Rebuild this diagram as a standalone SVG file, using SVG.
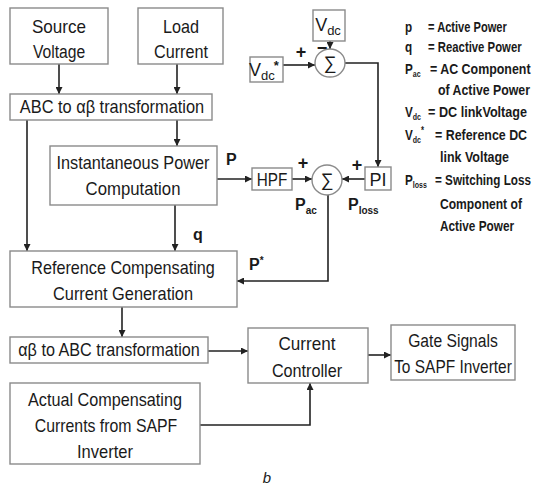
<svg xmlns="http://www.w3.org/2000/svg" width="540" height="492" viewBox="0 0 540 492">
<style>
.box{fill:#fff;stroke:#8a8a8a;stroke-width:1.4}
.sum{fill:#fff;stroke:#8a8a8a;stroke-width:1.4}
.t{font-family:"Liberation Sans",Arial,sans-serif;font-size:18px;fill:#1a1a1a;text-anchor:middle}
.lb{font-family:"Liberation Sans",Arial,sans-serif;font-size:16px;font-weight:bold;fill:#1a1a1a}
.lg{font-family:"Liberation Sans",Arial,sans-serif;font-size:15px;font-weight:bold;fill:#1a1a1a}
.ln{fill:none;stroke:#222;stroke-width:1.6}
</style>
<defs>
<marker id="ah" viewBox="0 0 10 10" refX="10" refY="5" markerWidth="7" markerHeight="7" markerUnits="userSpaceOnUse" orient="auto">
<path d="M0,0 L10,5 L0,10 z" fill="#222"/>
</marker>
</defs>
<rect width="540" height="492" fill="#fff"/>
<g id="connectors">
<path class="ln" d="M59,64 V94" marker-end="url(#ah)"/>
<path class="ln" d="M177,64 V94" marker-end="url(#ah)"/>
<path class="ln" d="M177,120 V146" marker-end="url(#ah)"/>
<path class="ln" d="M27,120 V251" marker-end="url(#ah)"/>
<path class="ln" d="M175,205 V251" marker-end="url(#ah)"/>
<path class="ln" d="M217,179 H252" marker-end="url(#ah)"/>
<path class="ln" d="M292,179 H312" marker-end="url(#ah)"/>
<path class="ln" d="M365,179 H342" marker-end="url(#ah)"/>
<path class="ln" d="M330,41 V49" marker-end="url(#ah)"/>
<path class="ln" d="M283,65 H315" marker-end="url(#ah)"/>
<path class="ln" d="M345,63 H378 V167" marker-end="url(#ah)"/>
<path class="ln" d="M328,195 V281 H237" marker-end="url(#ah)"/>
<path class="ln" d="M122,307 V337" marker-end="url(#ah)"/>
<path class="ln" d="M208,351 H248" marker-end="url(#ah)"/>
<path class="ln" d="M368,355 H391" marker-end="url(#ah)"/>
<path class="ln" d="M200,425 H310 V383" marker-end="url(#ah)"/>
</g>
<g id="source-voltage"><rect class="box" x="10" y="8" width="98" height="56"/><text class="t" transform="translate(59,33) scale(0.95,1)">Source</text><text class="t" transform="translate(59,58) scale(0.87,1)">Voltage</text></g>
<g id="load-current"><rect class="box" x="138" y="8" width="85" height="56"/><text class="t" transform="translate(181,33) scale(0.9,1)">Load</text><text class="t" transform="translate(181,58) scale(0.9,1)">Current</text></g>
<g id="abc-ab"><rect class="box" x="10" y="94" width="202" height="26"/><text class="t" transform="translate(112,113) scale(0.91,1)">ABC to αβ transformation</text></g>
<g id="inst-power"><rect class="box" x="50" y="146" width="167" height="59"/><text class="t" transform="translate(133,169) scale(0.905,1)">Instantaneous Power</text><text class="t" transform="translate(133,195) scale(0.93,1)">Computation</text></g>
<g id="hpf"><rect class="box" x="252" y="168" width="40" height="22"/><text class="t" transform="translate(272,186) scale(0.85,1)">HPF</text></g>
<g id="sum2"><ellipse class="sum" cx="327" cy="180" rx="15" ry="15"/><text class="t" x="327" y="186">∑</text></g>
<g id="pi"><rect class="box" x="365" y="167" width="26" height="23"/><text class="t" x="378" y="186">PI</text></g>
<g id="vdc"><rect class="box" x="313" y="10" width="32" height="31"/><text class="t" x="328" y="31">V<tspan dy="4" style="font-size:13px">dc</tspan></text></g>
<g id="vdc-ref"><rect class="box" x="250" y="57" width="33" height="25"/><text class="t" x="264" y="76">V<tspan dy="4" style="font-size:13px">dc</tspan><tspan dy="-10" dx="-1" style="font-size:13px;font-weight:bold">*</tspan></text></g>
<g id="sum1"><ellipse class="sum" cx="330" cy="63" rx="15" ry="14"/><text class="t" x="330" y="69">∑</text></g>
<g id="ref-comp"><rect class="box" x="10" y="251" width="227" height="56"/><text class="t" transform="translate(123,274) scale(0.9,1)">Reference Compensating</text><text class="t" transform="translate(123,300) scale(0.91,1)">Current Generation</text></g>
<g id="ab-abc"><rect class="box" x="10" y="337" width="198" height="26"/><text class="t" transform="translate(109,356) scale(0.9,1)">αβ to ABC transformation</text></g>
<g id="current-controller"><rect class="box" x="248" y="328" width="120" height="55"/><text class="t" transform="translate(307,350) scale(0.95,1)">Current</text><text class="t" transform="translate(307,377) scale(0.9,1)">Controller</text></g>
<g id="gate-signals"><rect class="box" x="391" y="325" width="124" height="55"/><text class="t" transform="translate(453,347) scale(0.87,1)">Gate Signals</text><text class="t" transform="translate(453,373) scale(0.86,1)">To SAPF Inverter</text></g>
<g id="actual-comp"><rect class="box" x="10" y="383" width="190" height="81"/><text class="t" transform="translate(105,406) scale(0.9,1)">Actual Compensating</text><text class="t" transform="translate(106,432) scale(0.88,1)">Currents from SAPF</text><text class="t" transform="translate(105,458) scale(0.92,1)">Inverter</text></g>
<g id="labels">
<text class="lb" x="226" y="165">P</text>
<text class="lb" x="193" y="240">q</text>
<text class="lb" x="249" y="270">P<tspan dy="-6" style="font-size:10px">*</tspan></text>
<text class="lb" x="295" y="210">P<tspan dy="4" style="font-size:10px">ac</tspan></text>
<text class="lb" x="348" y="210">P<tspan dy="4" style="font-size:10px">loss</tspan></text>
<text class="lb" x="303" y="169" style="font-size:18px;text-anchor:middle">+</text>
<text class="lb" x="357" y="171" style="font-size:18px;text-anchor:middle">+</text>
<text class="lb" x="301" y="58" style="font-size:18px;text-anchor:middle">+</text>
<text class="lb" x="322" y="54" style="font-size:18px;text-anchor:middle">−</text>
</g>
<g id="legend" transform="translate(405,0) scale(0.78,1)">
<text class="lg" x="0" y="32">p</text><text class="lg" x="29.5" y="32" textLength="101" lengthAdjust="spacingAndGlyphs">= Active Power</text>
<text class="lg" x="0" y="52">q</text><text class="lg" x="29.5" y="52" textLength="120" lengthAdjust="spacingAndGlyphs">= Reactive Power</text>
<text class="lg" x="0" y="74">P<tspan dy="3" style="font-size:9px">ac</tspan></text><text class="lg" x="32" y="74" textLength="129" lengthAdjust="spacingAndGlyphs">= AC Component</text>
<text class="lg" x="42.3" y="95" textLength="118" lengthAdjust="spacingAndGlyphs">of Active Power</text>
<text class="lg" x="0" y="117">V<tspan dy="3" style="font-size:9px">dc</tspan></text><text class="lg" x="29.5" y="117" textLength="127" lengthAdjust="spacingAndGlyphs">= DC linkVoltage</text>
<text class="lg" x="0" y="140">V<tspan dy="3" style="font-size:9px">dc</tspan><tspan dy="-9" style="font-size:10px">*</tspan></text><text class="lg" x="38.5" y="140" textLength="118" lengthAdjust="spacingAndGlyphs">= Reference DC</text>
<text class="lg" x="44.9" y="162" textLength="88.5" lengthAdjust="spacingAndGlyphs">link Voltage</text>
<text class="lg" x="0" y="185">P<tspan dy="3" style="font-size:9px">loss</tspan></text><text class="lg" x="38.5" y="185" textLength="123" lengthAdjust="spacingAndGlyphs">= Switching Loss</text>
<text class="lg" x="44.9" y="209" textLength="105" lengthAdjust="spacingAndGlyphs">Component of</text>
<text class="lg" x="44.9" y="231" textLength="95" lengthAdjust="spacingAndGlyphs">Active Power</text>
</g>
<text x="267" y="483" style="font-family:'Liberation Sans',Arial,sans-serif;font-size:15px;font-style:italic;fill:#222;text-anchor:middle">b</text>
</svg>
